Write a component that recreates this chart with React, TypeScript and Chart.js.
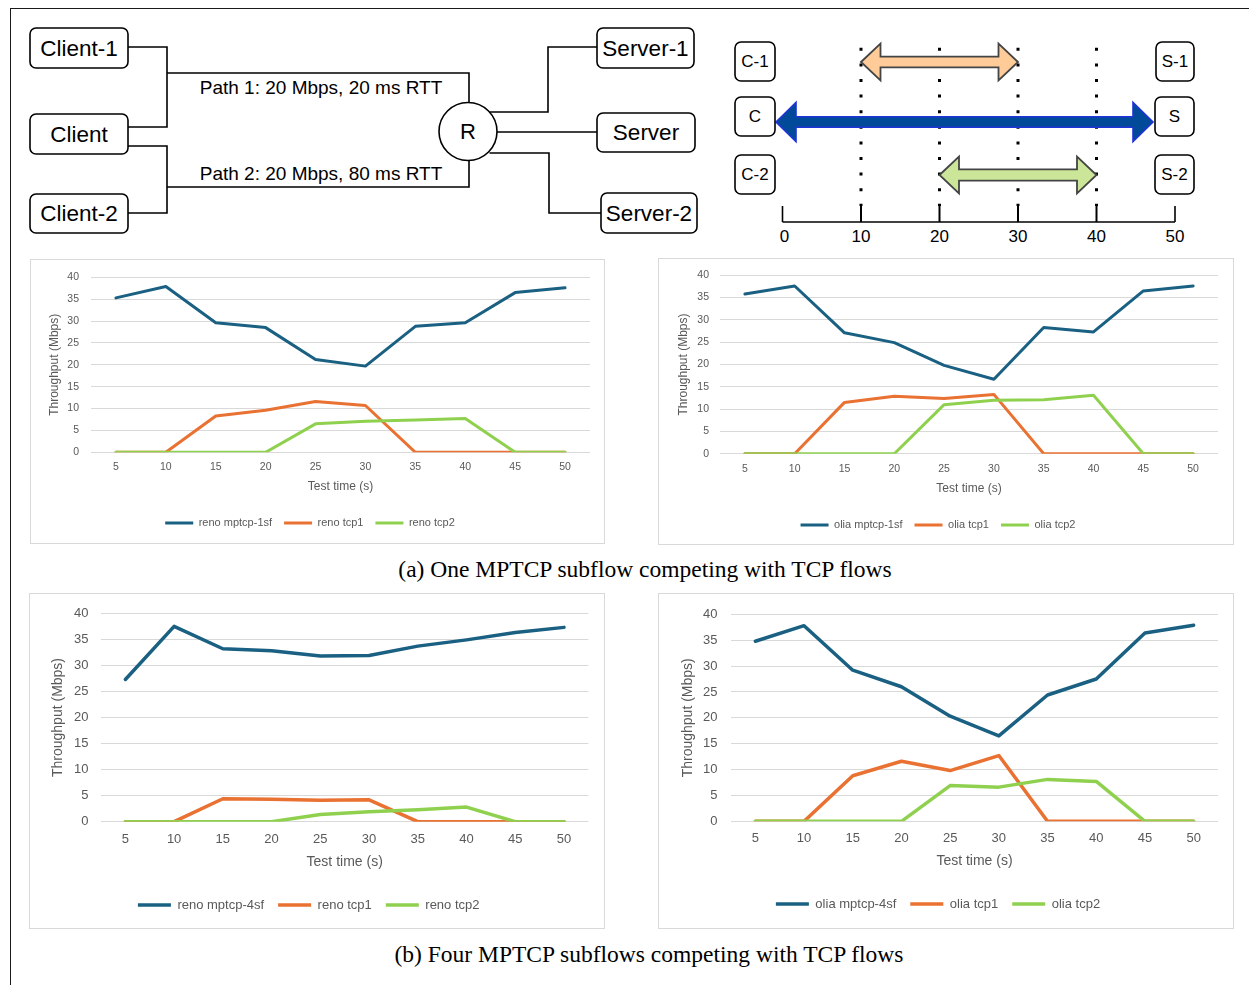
import React, { useEffect, useRef } from "react";
import { Chart, registerables } from "chart.js";

Chart.register(...registerables);

// ---------------- data ----------------
const testTimes = ["5", "10", "15", "20", "25", "30", "35", "40", "45", "50"];

const renoMptcp1sf = [35.3, 37.9, 29.6, 28.5, 21.2, 19.7, 28.8, 29.6, 36.5, 37.6];
const renoTcp1With1sf = [0, 0, 8.3, 9.6, 11.6, 10.7, 0, 0, 0, 0];
const renoTcp2With1sf = [0, 0, 0, 0, 6.5, 7.1, 7.4, 7.7, 0, 0];

const oliaMptcp1sf = [35.8, 37.6, 27.1, 24.9, 19.8, 16.7, 28.3, 27.3, 36.5, 37.6];
const oliaTcp1With1sf = [0, 0, 11.5, 12.9, 12.4, 13.3, 0, 0, 0, 0];
const oliaTcp2With1sf = [0, 0, 0, 0, 11.0, 12.0, 12.1, 13.1, 0, 0];

const renoMptcp4sf = [27.3, 37.5, 33.2, 32.8, 31.8, 31.9, 33.7, 34.9, 36.3, 37.3];
const renoTcp1With4sf = [0, 0, 4.4, 4.3, 4.1, 4.2, 0, 0, 0, 0];
const renoTcp2With4sf = [0, 0, 0, 0, 1.4, 1.9, 2.3, 2.8, 0, 0];

const oliaMptcp4sf = [34.8, 37.8, 29.2, 26.0, 20.3, 16.5, 24.4, 27.5, 36.4, 37.9];
const oliaTcp1With4sf = [0, 0, 8.8, 11.6, 9.8, 12.7, 0, 0, 0, 0];
const oliaTcp2With4sf = [0, 0, 0, 0, 6.9, 6.6, 8.1, 7.7, 0, 0];

const legendReno1 = ["reno mptcp-1sf", "reno tcp1", "reno tcp2"];
const legendOlia1 = ["olia mptcp-1sf", "olia tcp1", "olia tcp2"];
const legendReno4 = ["reno mptcp-4sf", "reno tcp1", "reno tcp2"];
const legendOlia4 = ["olia mptcp-4sf", "olia tcp1", "olia tcp2"];

const yMin = 0;
const yMax = 40;
const yStep = 5;

const timelineTicks = [0, 10, 20, 30, 40, 50];
const timelineMarks = [10, 20, 30, 40];
const tcp1Span = [10, 30];
const tcp2Span = [20, 40];

// ---------------- styles ----------------
const SERIES_COLORS = ["#1A6082", "#E97132", "#8FD14F"];
const CHART_FONT = "'Liberation Sans', Arial, sans-serif";
const TEXT_GRAY = "#595959";

type Geom = {
  x: number; y: number; w: number; h: number;
  pl: number; pr: number; pt: number; pb: number;
  xLabY: number; xTitleY: number; legY: number; yLabR: number; yTitleX: number;
  tickFont: number; titleFont: number; legFont: number; lw: number; legPad: number; legLine: number;
};

const geomA1: Geom = { x: 30, y: 259, w: 575, h: 285, pl: 61, pr: 560, pt: 15.5, pb: 193.3,
  xLabY: 208, xTitleY: 228, legY: 264, yLabR: 49, yTitleX: 25,
  tickFont: 10.5, titleFont: 12, legFont: 11, lw: 3, legPad: 12, legLine: 28 };
const geomA2: Geom = { x: 658, y: 258, w: 576, h: 287, pl: 62, pr: 560, pt: 13.3, pb: 195.7,
  xLabY: 211, xTitleY: 231, legY: 267, yLabR: 51, yTitleX: 26,
  tickFont: 10.5, titleFont: 12, legFont: 11, lw: 3, legPad: 12, legLine: 28 };
const geomB1: Geom = { x: 29, y: 593, w: 576, h: 336, pl: 72, pr: 559.4, pt: 18.3, pb: 228.7,
  xLabY: 246, xTitleY: 269, legY: 312, yLabR: 59.5, yTitleX: 29,
  tickFont: 13, titleFont: 14, legFont: 13, lw: 3.5, legPad: 14, legLine: 33 };
const geomB2: Geom = { x: 658, y: 593, w: 576, h: 336, pl: 73, pr: 560, pt: 19.3, pb: 228.3,
  xLabY: 245, xTitleY: 268, legY: 311, yLabR: 59.5, yTitleX: 30,
  tickFont: 13, titleFont: 14, legFont: 13, lw: 3.5, legPad: 14, legLine: 33 };

function LineChart({ g, names, series }: { g: Geom; names: string[]; series: number[][] }) {
  const ref = useRef<HTMLCanvasElement | null>(null);
  useEffect(() => {
    const canvas = ref.current;
    if (!canvas) return;
    const tickLH = g.tickFont * 1.2;
    const titleLH = g.titleFont * 1.2;
    const H = g.legY - g.legPad - g.legFont / 2 - g.pb;
    const legH = g.legFont + g.legPad + 10;
    const padBottom = Math.max(0, g.h - g.pb - H - legH);
    const chart = new Chart(canvas, {
      type: "line",
      data: {
        labels: testTimes,
        datasets: series.map((d, i) => ({
          label: names[i],
          data: d,
          borderColor: SERIES_COLORS[i],
          backgroundColor: SERIES_COLORS[i],
          borderWidth: g.lw,
          pointRadius: 0,
          pointHoverRadius: 0,
          borderCapStyle: "round" as const,
          borderJoinStyle: "round" as const,
          tension: 0,
          fill: false,
          order: series.length - i,
        })),
      },
      options: {
        responsive: false,
        animation: false,
        devicePixelRatio: 1,
        events: [],
        layout: { padding: { left: 0, top: g.pt, right: g.w - g.pr, bottom: padBottom } },
        plugins: {
          tooltip: { enabled: false },
          legend: {
            position: "bottom",
            labels: {
              usePointStyle: true,
              pointStyle: "line",
              pointStyleWidth: g.legLine,
              padding: g.legPad,
              color: TEXT_GRAY,
              font: { family: CHART_FONT, size: g.legFont },
              sort: (a: any, b: any) => a.datasetIndex - b.datasetIndex,
            },
          },
        },
        scales: {
          x: {
            offset: true,
            grid: { display: false, drawTicks: false },
            border: { display: false },
            ticks: {
              color: TEXT_GRAY,
              font: { family: CHART_FONT, size: g.tickFont },
              padding: g.xLabY - g.pb - tickLH / 2,
              maxRotation: 0,
              autoSkip: false,
            },
            title: {
              display: true,
              text: "Test time (s)",
              color: TEXT_GRAY,
              font: { family: CHART_FONT, size: g.titleFont },
              padding: { top: 0, bottom: g.pb + H - titleLH / 2 - g.xTitleY },
            },
            afterFit: (s: any) => { s.height = H; },
          },
          y: {
            min: yMin,
            max: yMax,
            grid: { color: "#d9d9d9", lineWidth: 1, drawTicks: false },
            border: { display: false },
            ticks: {
              stepSize: yStep,
              color: TEXT_GRAY,
              font: { family: CHART_FONT, size: g.tickFont },
              padding: g.pl - g.yLabR,
            },
            title: {
              display: true,
              text: "Throughput (Mbps)",
              color: TEXT_GRAY,
              font: { family: CHART_FONT, size: g.titleFont },
              padding: { top: g.yTitleX - titleLH / 2, bottom: 0 },
            },
            afterFit: (s: any) => { s.width = g.pl; },
          },
        },
      },
    } as any);
    return () => chart.destroy();
  }, []);
  return (
    <>
      <canvas
        ref={ref}
        width={g.w}
        height={g.h}
        style={{ position: "absolute", left: g.x, top: g.y, width: g.w, height: g.h, background: "#fff" }}
      />
      <div
        style={{
          position: "absolute", left: g.x, top: g.y, width: g.w, height: g.h,
          boxSizing: "border-box", border: "1.5px solid #d9d9d9", pointerEvents: "none",
        }}
      />
    </>
  );
}

// ---------------- diagram ----------------
const DIAG_FONT = "'Liberation Sans', Arial, Helvetica, sans-serif";

function Box({ x, y, w, h, text, size, rx = 6 }: any) {
  return (
    <g>
      <rect x={x} y={y} width={w} height={h} rx={rx} ry={rx} fill="#fff" stroke="#000" strokeWidth={1.6} />
      <text x={x + w / 2} y={y + h / 2} textAnchor="middle" dominantBaseline="central"
        fontFamily={DIAG_FONT} fontSize={size} fill="#000">{text}</text>
    </g>
  );
}

function arrowPoints(x1: number, x2: number, cy: number, hl: number, hh: number, sh: number) {
  const p = [
    [x1, cy], [x1 + hl, cy - hh], [x1 + hl, cy - sh], [x2 - hl, cy - sh], [x2 - hl, cy - hh],
    [x2, cy], [x2 - hl, cy + hh], [x2 - hl, cy + sh], [x1 + hl, cy + sh], [x1 + hl, cy + hh],
  ];
  return p.map((q) => q.join(",")).join(" ");
}

function Diagram() {
  const tx = (t: number) => 782.5 + t * 7.85;
  const axisY = 222;
  return (
    <svg width={1249} height={250} style={{ position: "absolute", left: 0, top: 0 }}>
      {/* left topology */}
      <g fill="none" stroke="#000" strokeWidth={1.6}>
        <polyline points="128,47 167,47 167,127 128,127" />
        <polyline points="167,73 469,73 469,102.5" />
        <polyline points="128,146 167,146 167,213 128,213" />
        <polyline points="167,187 469,187 469,160.5" />
        <polyline points="489.5,112 548,112 548,47 597,47" />
        <polyline points="497,132 597,132" />
        <polyline points="489.5,153 549,153 549,213 601,213" />
      </g>
      <circle cx={468} cy={131.5} r={29} fill="#fff" stroke="#000" strokeWidth={1.6} />
      <text x={468} y={131.5} textAnchor="middle" dominantBaseline="central" fontFamily={DIAG_FONT} fontSize={22}>R</text>
      <Box x={30} y={28} w={98} h={40} text="Client-1" size={22.5} />
      <Box x={30} y={114} w={98} h={40} text="Client" size={22.5} />
      <Box x={30} y={194} w={98} h={39} text="Client-2" size={22.5} />
      <Box x={597} y={28} w={97} h={40} text="Server-1" size={22.5} />
      <Box x={597} y={113} w={98} h={39} text="Server" size={22.5} />
      <Box x={601} y={193} w={96} h={40} text="Server-2" size={22.5} />
      <text x={321} y={87.5} textAnchor="middle" dominantBaseline="central" fontFamily={DIAG_FONT} fontSize={19}>Path 1: 20 Mbps, 20 ms RTT</text>
      <text x={321} y={173.5} textAnchor="middle" dominantBaseline="central" fontFamily={DIAG_FONT} fontSize={19}>Path 2: 20 Mbps, 80 ms RTT</text>

      {/* right timeline */}
      {timelineMarks.map((t) => (
        <g key={"m" + t}>
          <line x1={tx(t)} y1={47.8} x2={tx(t)} y2={206} stroke="#000" strokeWidth={3} strokeDasharray="3 12.6" />
          <line x1={tx(t)} y1={206} x2={tx(t)} y2={axisY} stroke="#000" strokeWidth={2} />
        </g>
      ))}
      <line x1={tx(0)} y1={axisY} x2={tx(50)} y2={axisY} stroke="#000" strokeWidth={1.6} />
      <line x1={tx(0)} y1={206} x2={tx(0)} y2={axisY} stroke="#000" strokeWidth={1.6} />
      <line x1={tx(50)} y1={206} x2={tx(50)} y2={axisY} stroke="#000" strokeWidth={1.6} />
      {timelineTicks.map((t) => (
        <text key={"t" + t} x={tx(t) + (t === 0 ? 2 : 0)} y={236} textAnchor="middle" dominantBaseline="central"
          fontFamily={DIAG_FONT} fontSize={17}>{t}</text>
      ))}
      <polygon points={arrowPoints(tx(tcp1Span[0]), tx(tcp1Span[1]), 62, 19.5, 18.5, 5.3)}
        fill="#FFCC99" stroke="#444" strokeWidth={1.8} strokeLinejoin="miter" />
      <polygon points={arrowPoints(tx(tcp2Span[0]), tx(tcp2Span[1]), 175, 19.5, 18.5, 5.6)}
        fill="#CCE699" stroke="#444" strokeWidth={1.8} strokeLinejoin="miter" />
      <polygon points={arrowPoints(776, 1153, 122, 20, 19.5, 5.2)}
        fill="#004A99" stroke="#1F33D6" strokeWidth={1.6} strokeLinejoin="miter" />
      <Box x={735} y={42} w={40} h={39} text="C-1" size={17} rx={6} />
      <Box x={735} y={97} w={40} h={39} text="C" size={17} rx={6} />
      <Box x={735} y={155} w={40} h={39} text="C-2" size={17} rx={6} />
      <Box x={1156} y={42} w={38} h={39} text="S-1" size={17} rx={6} />
      <Box x={1155} y={97} w={39} h={39} text="S" size={17} rx={6} />
      <Box x={1155} y={155} w={39} h={39} text="S-2" size={17} rx={6} />
    </svg>
  );
}

const captionStyle: React.CSSProperties = {
  position: "absolute",
  transform: "translate(-50%, -50%)",
  whiteSpace: "nowrap",
  fontFamily: "'Liberation Serif', 'Times New Roman', serif",
  fontSize: 23.5,
  color: "#000",
};

export default function App() {
  return (
    <div style={{ position: "absolute", left: 0, top: 0, width: 1249, height: 985, overflow: "hidden", background: "#fff" }}>
      <div style={{ position: "absolute", left: 10, top: 8, width: 1260, height: 1000, borderLeft: "1px solid #1a1a1a", borderTop: "1px solid #1a1a1a" }} />
      <Diagram />
      <LineChart g={geomA1} names={legendReno1} series={[renoMptcp1sf, renoTcp1With1sf, renoTcp2With1sf]} />
      <LineChart g={geomA2} names={legendOlia1} series={[oliaMptcp1sf, oliaTcp1With1sf, oliaTcp2With1sf]} />
      <div style={{ ...captionStyle, left: 645, top: 569 }}>(a) One MPTCP subflow competing with TCP flows</div>
      <LineChart g={geomB1} names={legendReno4} series={[renoMptcp4sf, renoTcp1With4sf, renoTcp2With4sf]} />
      <LineChart g={geomB2} names={legendOlia4} series={[oliaMptcp4sf, oliaTcp1With4sf, oliaTcp2With4sf]} />
      <div style={{ ...captionStyle, left: 649, top: 954 }}>(b) Four MPTCP subflows competing with TCP flows</div>
    </div>
  );
}
